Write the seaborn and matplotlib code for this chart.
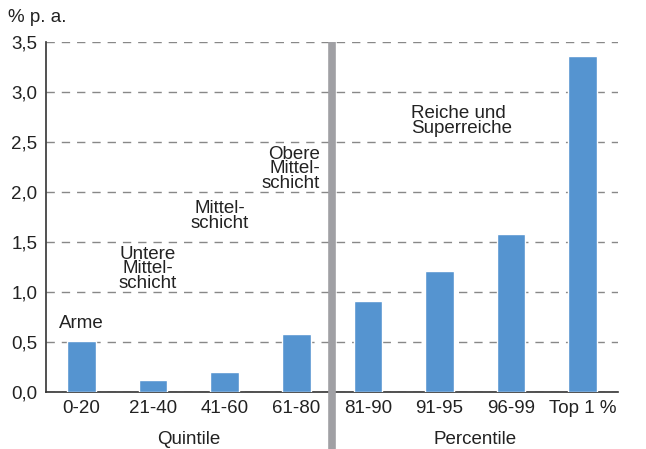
import matplotlib
matplotlib.use("Agg")
import matplotlib.pyplot as plt
import seaborn as sns
import pandas as pd

# Data
categories = ["0-20", "21-40", "41-60", "61-80", "81-90", "91-95", "96-99", "Top 1 %"]
values = [0.51, 0.12, 0.20, 0.58, 0.91, 1.21, 1.58, 3.36]
group_labels = ["Quintile", "Percentile"]
y_ticks = [0.0, 0.5, 1.0, 1.5, 2.0, 2.5, 3.0, 3.5]
y_tick_labels = ["0,0", "0,5", "1,0", "1,5", "2,0", "2,5", "3,0", "3,5"]

sns.set_style("white")
plt.rcParams["font.family"] = ["Liberation Sans", "DejaVu Sans"]

FS = 13.5
TXT = "#222222"

df = pd.DataFrame({"cat": categories, "val": values})

fig = plt.figure(figsize=(6.46, 4.49), dpi=100)
ax = fig.add_axes([0.071, 0.127, 0.886, 0.78])

sns.barplot(data=df, x="cat", y="val", color="#5594d0", width=0.4,
            saturation=1, ax=ax, zorder=3)

ax.set_xlim(-0.5, 7.5)
ax.set_ylim(0, 3.5)
ax.set_yticks(y_ticks)
ax.set_yticklabels(y_tick_labels, fontsize=FS, color=TXT)
ax.yaxis.grid(True, linestyle=(0, (6, 5)), color="#888888", linewidth=1, zorder=0)
ax.set_xlabel("")
ax.set_ylabel("")

# category labels at centres, tick marks at group boundaries
ax.set_xticks(range(len(categories)))
ax.set_xticklabels(categories, fontsize=FS, color=TXT)
ax.tick_params(axis="x", length=0, pad=6)
ax.set_xticks([i - 0.5 for i in range(len(categories) + 1)], minor=True)
ax.tick_params(axis="x", which="minor", length=5, width=1, color="#333333", direction="out")
ax.tick_params(axis="y", length=5, width=1, color="#333333", direction="out", pad=1)

for s in ["top", "right"]:
    ax.spines[s].set_visible(False)
for s in ["left", "bottom"]:
    ax.spines[s].set_color("#333333")
    ax.spines[s].set_linewidth(1.2)

# grey divider between quintiles and percentiles
ax.axvline(3.5, ymin=-0.2, ymax=1.0, color="#a0a0a4", linewidth=5.5,
           solid_capstyle="butt", clip_on=False, zorder=4)

fig.text(0.012, 0.952, "% p. a.", fontsize=FS, color=TXT)
ax.text(1.5, -0.11, group_labels[0], transform=ax.get_xaxis_transform(),
        ha="center", va="top", fontsize=FS, color=TXT)
ax.text(5.5, -0.11, group_labels[1], transform=ax.get_xaxis_transform(),
        ha="center", va="top", fontsize=FS, color=TXT)

lbl = dict(fontsize=FS, color=TXT, linespacing=0.82)
ax.text(0, 0.6, "Arme", ha="center", va="bottom", **lbl)
ax.text(0.92, 1.0, "Untere\nMittel-\nschicht", ha="center", va="bottom", **lbl)
ax.text(1.93, 1.6, "Mittel-\nschicht", ha="center", va="bottom", **lbl)
ax.text(3.33, 2.0, "Obere\nMittel-\nschicht", ha="right", va="bottom", **lbl)
ax.text(4.6, 2.55, "Reiche und\nSuperreiche", ha="left", va="bottom", **lbl)

plt.savefig("out.png", dpi=100)
